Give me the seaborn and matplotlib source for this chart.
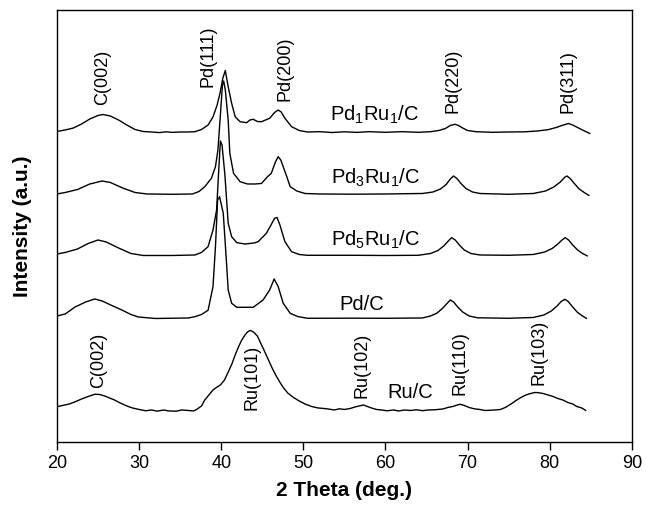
import numpy as np
import pandas as pd
import matplotlib
matplotlib.use("Agg")
import matplotlib.pyplot as plt
import seaborn as sns

# ── XRD traces (2θ in deg, intensity in arbitrary units) ──
PD1RU1_X = [20.0, 21.0, 22.0, 23.0, 24.0, 25.0, 25.6, 26.5, 27.5, 28.5, 29.5, 30.5,
            31.5, 32.5, 33.3, 34.0, 35.0, 36.0, 36.8, 37.6, 38.4, 39.0, 39.5, 39.85,
            40.2, 40.5, 40.85, 41.27, 41.7, 42.3, 43.1, 43.5, 43.9, 44.4, 44.9, 45.9,
            46.5, 46.94, 47.3, 47.76, 48.57, 49.5, 50.5, 52.0, 53.5, 55.0, 56.5, 58.0,
            60.0, 62.0, 64.0, 65.5, 66.5, 67.3, 67.9, 68.45, 68.9, 69.4, 70.0, 71.0,
            73.0, 75.0, 77.0, 78.5, 79.8, 80.8, 81.6, 82.3, 82.8, 83.4, 84.0, 84.5,
            84.9]
PD1RU1_Y = [310.5, 312, 314, 318, 323, 326.5, 327.5, 326, 322, 317, 312.5, 310.5,
            310, 309.4, 310.2, 309.6, 310, 310, 310.3, 312.5, 317, 325, 337, 348.7,
            364, 371.5, 355.3, 338.7, 325.3, 320.3, 319.3, 322, 322.7, 320.5, 320.3, 323.7,
            329.5, 332, 330, 323.7, 315.3, 311.5, 310, 310.3, 309.5, 310.2, 309.6, 310.3,
            309.7, 310.3, 309.7, 310.3, 311.5, 313.5, 316.5, 317.7, 316.5, 314, 311.5, 310.3,
            309.7, 310, 310.2, 311, 312.3, 314.5, 316.8, 318.5, 317, 314.5, 312, 310,
            308.5]

PD3RU1_X = [20.0, 21.0, 22.5, 24.0, 25.5, 26.5, 28.0, 29.5, 31.0, 34.0, 36.5, 37.3,
            38.0, 38.8, 39.3, 39.6, 39.9, 40.15, 40.3, 40.5, 40.85, 41.05, 41.5, 42.3,
            43.2, 44.1, 44.9, 45.6, 46.1, 46.6, 46.94, 47.25, 47.55, 48.0, 48.4, 49.2,
            50.2, 52.0, 56.0, 60.0, 64.5, 65.8, 66.7, 67.4, 67.9, 68.3, 68.7, 69.2,
            69.8, 70.6, 71.5, 75.0, 78.0, 79.5, 80.5, 81.3, 81.8, 82.1, 82.5, 83.0,
            83.6, 84.2, 84.8]
PD3RU1_Y = [248, 249.5, 252.5, 258, 261, 259.5, 254, 249.5, 248, 247.7, 248, 250.5,
            255.3, 263.7, 275.3, 292, 327, 357, 361, 352, 322, 288.7, 268.7, 260.3,
            258, 258, 258.5, 265, 268.7, 280, 285.3, 282, 275.3, 265, 255.3, 251,
            248.5, 248, 247.8, 248, 248.5, 250, 253, 257.5, 263, 266, 263.5, 258.5,
            253.5, 250, 248.5, 247.7, 248.5, 251, 255, 260, 264.5, 266, 263.5, 258.5,
            253, 249.5, 246.5]

PD5RU1_X = [20.0, 21.0, 22.5, 23.8, 25.0, 26.0, 27.5, 29.0, 30.5, 34.0, 36.8, 37.6,
            38.4, 39.0, 39.44, 39.7, 39.9, 40.1, 40.45, 40.85, 41.27, 41.9, 42.9, 44.0,
            44.5, 45.5, 46.0, 46.5, 46.8, 47.15, 47.76, 48.57, 49.5, 50.5, 56.0, 60.0,
            64.0, 65.5, 66.4, 67.1, 67.6, 68.05, 68.5, 69.0, 69.6, 70.4, 71.5, 75.0,
            78.0, 79.4, 80.3, 81.0, 81.5, 81.9, 82.3, 82.8, 83.4, 84.0, 84.6]
PD5RU1_Y = [188, 189.5, 193, 198.5, 202, 200, 194, 188.5, 186.5, 186.5, 187, 189.5,
            195.3, 212, 232, 272, 301, 297, 267, 218.7, 205.3, 199.3, 198, 199,
            200.3, 208.7, 216, 223.7, 224.5, 217, 200.3, 190.3, 187.5, 186.7, 186.7, 186.5,
            186.7, 188.5, 191.5, 196, 200.5, 204.3, 202, 197, 192, 188.5, 187, 186.7,
            187.5, 190, 193.5, 198, 202, 204.3, 202, 197, 192, 188.5, 186]

PDC_X = [20.0, 21.0, 22.2, 23.5, 24.6, 25.5, 26.8, 27.9, 29.0, 29.9, 32.0, 36.0,
         36.8, 37.6, 38.4, 39.0, 39.3, 39.56, 39.8, 40.25, 40.65, 40.85, 41.27, 41.9,
         43.9, 45.1, 45.9, 46.45, 46.94, 47.55, 48.4, 49.3, 50.5, 56.0, 60.0, 64.5,
         65.5, 66.3, 67.0, 67.5, 67.9, 68.3, 68.8, 69.4, 70.2, 71.2, 75.0, 78.0,
         79.3, 80.2, 80.9, 81.4, 81.85, 82.25, 82.8, 83.4, 84.0, 84.5]
PDC_Y = [126, 128, 135, 140, 143, 141, 136, 132, 127.5, 125, 123.5, 124,
         125.3, 127.5, 131.7, 155.3, 195.3, 242, 245.3, 228.7, 178.7, 152, 138.7, 134.7,
         134.7, 142, 152, 163, 155.3, 138.7, 128.7, 125.5, 123.7, 123.8, 123.7, 124,
         126, 129, 134, 138.5, 142, 140, 135, 130, 126, 124.2, 123.7, 124.5,
         127, 131, 136, 140.5, 142.7, 140.5, 135, 129.5, 126, 123.5]

RUC_X = [20.0, 20.7, 21.5, 22.3, 23.0, 23.8, 24.6, 25.2, 25.8, 26.4, 27.0, 27.7,
         28.5, 29.2, 30.0, 30.8, 31.5, 32.2, 33.0, 33.6, 34.5, 35.2, 36.0, 36.6,
         37.0, 37.6, 38.0, 38.5, 39.0, 39.5, 39.9, 40.4, 40.8, 41.3, 41.7, 42.1,
         42.5, 42.9, 43.2, 43.5, 43.7, 44.0, 44.4, 44.8, 45.2, 45.7, 46.2, 46.7,
         47.2, 47.6, 48.1, 48.8, 49.5, 50.2, 51.0, 51.8, 52.5, 53.0, 53.8, 54.4,
         55.0, 55.7, 56.3, 56.8, 57.3, 57.8, 58.3, 58.9, 59.5, 60.2, 61.0, 61.6,
         62.3, 63.0, 63.8, 64.5, 65.2, 66.0, 67.0, 67.6, 68.2, 68.7, 69.1, 69.6,
         70.2, 70.8, 71.5, 72.1, 72.7, 73.3, 74.0, 74.6, 75.3, 75.9, 76.5, 77.1,
         77.7, 78.2, 78.6, 79.2, 79.8, 80.4, 81.0, 81.6, 82.2, 82.8, 83.3, 83.9,
         84.4]
RUC_Y = [35.3, 36.5, 38, 40.5, 43, 45.5, 47.7, 47.5, 46, 44, 42, 39,
         36, 34, 32.5, 31.2, 32, 30.8, 32, 31, 30.8, 32, 31.5, 31,
         32.5, 36, 42, 47, 52, 55, 57, 62, 69, 78, 87, 95,
         102, 107, 110, 111.5, 111, 109.5, 106, 99, 92, 83, 74, 66,
         59, 54, 49, 44.5, 41, 38, 35.5, 34, 33.5, 33, 32, 33.2,
         32.5, 33.5, 35, 36, 37, 35.5, 34, 32.5, 32, 31.2, 32, 31,
         32, 31.5, 32.2, 31.3, 32, 32.2, 33, 34.5, 35.5, 36.8, 37.7, 36.5,
         34.5, 33.2, 32.5, 31.5, 31.7, 32, 32.5, 34.5, 38, 41.5, 44.5, 47,
         48.5, 49.5, 49.3, 48.5, 47, 45.5, 43.5, 42, 39.5, 38, 35.5, 34,
         31.5]

SAMPLES = ["Pd1Ru1/C", "Pd3Ru1/C", "Pd5Ru1/C", "Pd/C", "Ru/C"]
SAMPLE_LABELS = [r"Pd$_1$Ru$_1$/C", r"Pd$_3$Ru$_1$/C", r"Pd$_5$Ru$_1$/C", "Pd/C", "Ru/C"]
SAMPLE_LABEL_X = [58.7, 58.8, 58.8, 57.1, 63.0]
SAMPLE_LABEL_Y = [327, 264, 202, 137, 49]

# reflection labels (x, bottom of the rotated text)
PEAK_NAMES = ["C(002)", "Pd(111)", "Pd(200)", "Pd(220)", "Pd(311)",
              "C(002)", "Ru(101)", "Ru(102)", "Ru(110)", "Ru(103)"]
PEAK_X = [25.6, 38.4, 47.8, 68.2, 82.2, 25.1, 43.8, 57.1, 69.1, 78.7]
PEAK_Y = [337, 355, 341, 329, 329, 54, 32, 44, 47, 57]

# ── Style ────────────────────────────────────────────────────────────────────
sns.set_theme(style="ticks")
plt.rcParams.update({
    "font.family": ["Liberation Sans", "DejaVu Sans"],
    "mathtext.fontset": "custom",
    "mathtext.rm": "Liberation Sans",
    "mathtext.it": "Liberation Sans:italic",
    "axes.linewidth": 1.0,
    "axes.edgecolor": "black",
    "text.color": "black",
    "axes.labelcolor": "black",
    "xtick.color": "black",
    "ytick.color": "black",
})

frames = []
for name, xs, ys in zip(SAMPLES,
                        [PD1RU1_X, PD3RU1_X, PD5RU1_X, PDC_X, RUC_X],
                        [PD1RU1_Y, PD3RU1_Y, PD5RU1_Y, PDC_Y, RUC_Y]):
    frames.append(pd.DataFrame({"two_theta": xs, "intensity": ys, "sample": name}))
df = pd.concat(frames, ignore_index=True)

fig = plt.figure(figsize=(6.46, 5.05), dpi=100)
ax = fig.add_axes([0.0882, 0.1248, 0.8898, 0.8554])

sns.lineplot(data=df, x="two_theta", y="intensity", units="sample",
             estimator=None, sort=False, color="black", linewidth=1.0, ax=ax)

for lab, x, y in zip(SAMPLE_LABELS, SAMPLE_LABEL_X, SAMPLE_LABEL_Y):
    ax.text(x, y, lab, ha="center", va="center", fontsize=14.5, color="black")

for lab, x, y in zip(PEAK_NAMES, PEAK_X, PEAK_Y):
    ax.text(x, y, lab, rotation=90, ha="center", va="bottom", fontsize=13, color="black")

ax.set_xlim(20, 90)
ax.set_ylim(0, 432)
ax.set_xticks([20, 30, 40, 50, 60, 70, 80, 90])
ax.set_yticks([])
ax.tick_params(axis="x", direction="out", length=6, width=1, labelsize=13, colors="black")
for s in ax.spines.values():
    s.set_visible(True)
    s.set_color("black")

ax.set_xlabel("2 Theta (deg.)", fontsize=15, fontweight="bold", labelpad=6)
ax.set_ylabel("Intensity (a.u.)", fontsize=15, fontweight="bold", labelpad=18)

fig.savefig("out.png", dpi=100)
